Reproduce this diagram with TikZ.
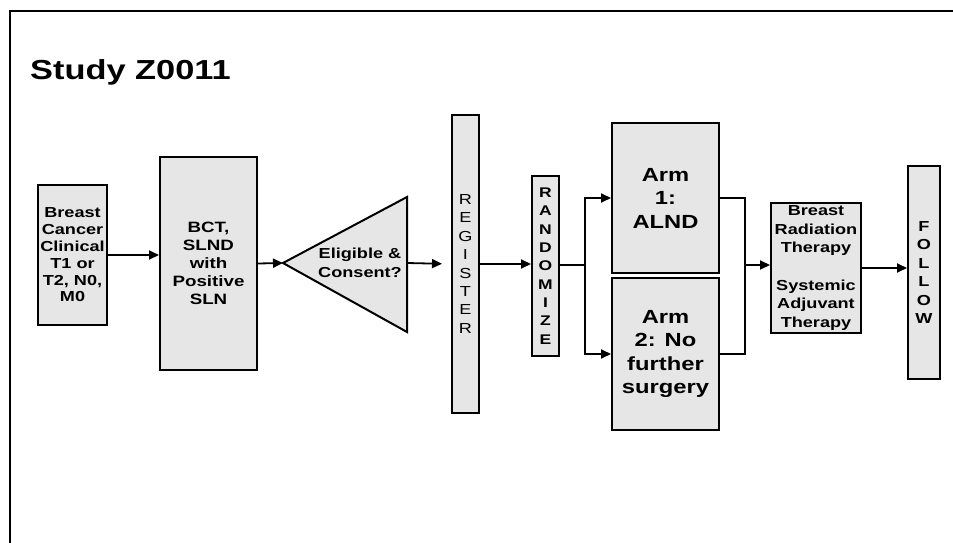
\documentclass[tikz,border=0pt]{standalone}
\usepackage{fontspec}
\setmainfont{Liberation Sans}[FakeStretch=1.25]
\usetikzlibrary{arrows.meta,positioning}
\definecolor{boxfill}{RGB}{230,230,230}

\begin{document}
\begin{tikzpicture}[x=1pt, y=-1pt,
  box/.style={draw, fill=boxfill, line width=2pt, inner sep=0pt, align=center},
  tri/.style={draw, fill=boxfill, line width=2pt, line join=miter},
  arr/.style={line width=1.8pt, -{Triangle[length=10pt,width=9pt]}},
  link/.style={line width=1.8pt}]
  \useasboundingbox (0,0) rectangle (953,543);
  % Frame and title
  \draw[line width=1.6pt] (953,11) -- (10,11) -- (10,543);
  \node[anchor=base west, inner sep=0pt, font=\fontsize{27.5}{30}\selectfont\bfseries] (title) at (30,80) {Study Z0011};
  % Nodes
  \node[box, minimum width=69pt, minimum height=140pt, font=\fontsize{14.5}{16.8}\selectfont\bfseries] (pat) at (72.5,255) {Breast\\Cancer\\Clinical\\T1 or\\T2, N0,\\M0};
  \node[box, minimum width=97pt, minimum height=213pt, font=\fontsize{15}{18}\selectfont\bfseries] (bct) at (208.5,263.5) {BCT,\\SLND\\with\\Positive\\SLN};
  \coordinate (tip) at (283,263);
  \coordinate (base) at (407,263);
  \draw[tri] (tip) -- (407,197) -- (407,332) -- cycle;
  \node[align=center, inner sep=0pt, font=\fontsize{14.5}{19}\selectfont\bfseries] (elig) at (360,263) {Eligible \&\\Consent?};
  \node[box, minimum width=27pt, minimum height=298pt, font=\fontsize{14.5}{18.4}\selectfont] (reg) at (465.5,264) {R\\E\\G\\I\\S\\T\\E\\R};
  \node[box, minimum width=27pt, minimum height=180pt, font=\fontsize{14}{18.3}\selectfont\bfseries] (rand) at (545.5,266) {R\\A\\N\\D\\O\\M\\I\\Z\\E};
  \node[box, minimum width=107pt, minimum height=150pt, font=\fontsize{19}{23.5}\selectfont\bfseries] (arm1) at (665.5,198) {Arm\\1:\\ALND};
  \node[box, minimum width=107pt, minimum height=152pt, font=\fontsize{19}{23.5}\selectfont\bfseries] (arm2) at (665.5,354) {Arm\\2: No\\further\\surgery};
  \node[box, minimum width=90pt, minimum height=130pt, font=\fontsize{14.5}{18.6}\selectfont\bfseries] (ther) at (816,268) {Breast\\Radiation\\Therapy\\[18.6pt]Systemic\\Adjuvant\\Therapy};
  \node[box, minimum width=32pt, minimum height=213pt, font=\fontsize{14.5}{18.4}\selectfont\bfseries] (fol) at (924,272.5) {F\\O\\L\\L\\O\\W};
  \coordinate (split) at (585,265);
  \coordinate (merge) at (745,265);
  % Connections
  \draw[arr] (pat.east) -- (pat.east -| bct.west);
  \draw[arr] (bct.east) -- (tip);
  \draw[arr, shorten >=9pt] (base) -- (reg.west);
  \draw[arr] (reg.east) -- (reg.east -| rand.west);
  \draw[link] (rand.east |- split) -- (split);
  \draw[arr] (split) |- (arm1.west);
  \draw[arr] (split) |- (arm2.west);
  \draw[link] (arm1.east) -| (merge);
  \draw[link] (arm2.east) -| (merge);
  \draw[arr] (merge) -- (merge -| ther.west);
  \draw[arr] (ther.east) -- (ther.east -| fol.west);
\end{tikzpicture}
\end{document}
